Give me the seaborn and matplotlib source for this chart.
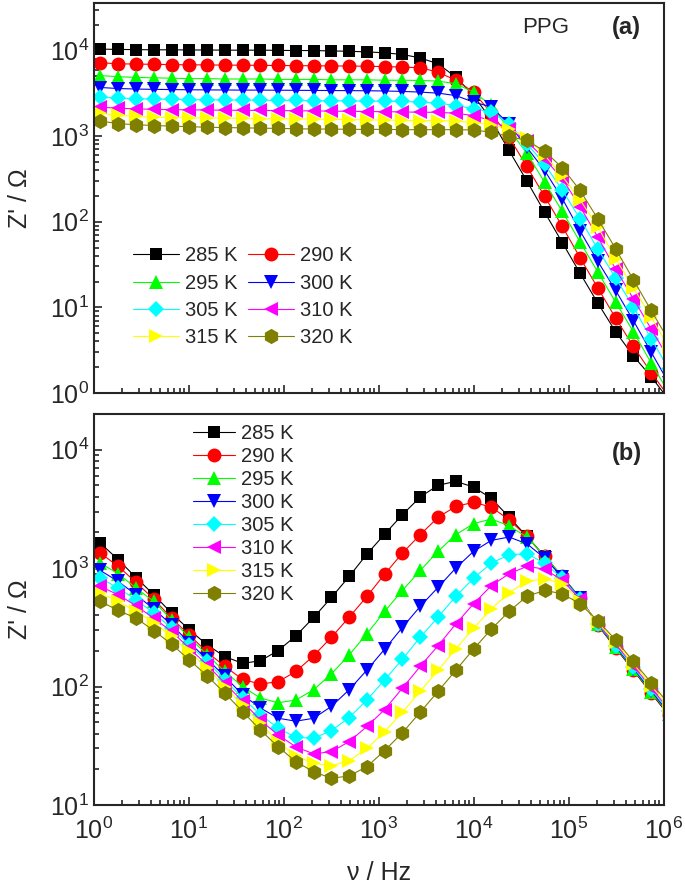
import matplotlib
matplotlib.use('Agg')
import matplotlib.pyplot as plt
import matplotlib.ticker as mticker
import pandas as pd
import seaborn as sns

sns.set_style('ticks')
plt.rcParams.update({
    'font.family': ['Liberation Sans', 'DejaVu Sans'],
    'mathtext.fontset': 'custom',
    'mathtext.rm': 'Liberation Sans',
    'mathtext.it': 'Liberation Sans:italic',
    'mathtext.bf': 'Liberation Sans:bold',
    'font.size': 16,
})

# frequencies (Hz); the last one lies just past 1e6 and is clipped by the axis
freq = [1.17, 1.81, 2.78, 4.28, 6.58, 10.1, 15.6, 23.9, 36.8, 56.6, 87.1, 134,
        206, 317, 488, 750, 1153, 1774, 2729, 4198, 6457, 9931, 15276, 23496,
        36141, 55590, 85507, 131522, 202302, 311172, 478630, 736207, 1132400]

temps = ['285 K', '290 K', '295 K', '300 K', '305 K', '310 K', '315 K', '320 K']
colors = ['#000000', '#ff0000', '#00ff00', '#0000ff', '#00ffff', '#ff00ff', '#ffff00', '#808000']
markers = ['s', 'o', '^', 'v', 'D', '<', '>', 'h']
msizes = [9, 10, 10.5, 10.5, 8.5, 10.5, 10.5, 11]

xticks = [1e0, 1e1, 1e2, 1e3, 1e4, 1e5, 1e6]
yticks_a = [1e0, 1e1, 1e2, 1e3, 1e4]
yticks_b = [1e1, 1e2, 1e3, 1e4]

# panel (a): PPG
za_285 = [10400, 10300, 10250, 10200, 10200, 10150, 10150, 10100, 10100, 10100, 10050, 10000, 10000,
          9900, 9800, 9650, 9400, 9000, 8200, 7000, 4900, 3000, 1550, 680, 300, 130, 57, 25, 11.2,
          5.2, 2.7, 1.55, 0.83]
za_290 = [7200, 7000, 6950, 6900, 6850, 6800, 6800, 6750, 6750, 6700, 6700, 6650, 6650, 6600,
          6600, 6550, 6500, 6400, 6300, 5600, 4500, 3270, 1860, 973, 443, 199, 88, 38, 16.8, 7.5,
          3.5, 1.73, 0.9]
za_295 = [5100, 4950, 4850, 4800, 4750, 4700, 4700, 4650, 4650, 4650, 4600, 4600, 4600, 4550,
          4550, 4550, 4500, 4500, 4470, 4400, 4100, 3270, 2300, 1200, 632, 290, 132, 58, 25.8,
          11.5, 5.2, 2.24, 1.0]
za_300 = [3700, 3600, 3550, 3520, 3500, 3480, 3470, 3460, 3450, 3450, 3440, 3430, 3420, 3410,
          3400, 3390, 3370, 3330, 3270, 3180, 2980, 2500, 2200, 1380, 741, 398, 186, 78, 34.4,
          15.8, 7.0, 3.0, 1.3]
za_305 = [2850, 2780, 2740, 2710, 2690, 2670, 2660, 2650, 2640, 2630, 2620, 2610, 2600, 2590,
          2580, 2570, 2560, 2540, 2500, 2430, 2280, 2100, 1900, 1400, 820, 470, 234, 108, 48, 22,
          10.1, 4.3, 1.9]
za_310 = [2180, 2120, 2080, 2060, 2040, 2030, 2020, 2010, 2000, 2000, 1990, 1980, 1970, 1960,
          1950, 1940, 1930, 1920, 1900, 1900, 1850, 1740, 1520, 1220, 870, 544, 318, 150, 66, 28,
          12.6, 5.6, 2.5]
za_315 = [1850, 1750, 1700, 1670, 1650, 1640, 1630, 1620, 1610, 1600, 1600, 1590, 1580, 1570,
          1560, 1550, 1540, 1530, 1520, 1520, 1500, 1440, 1360, 1220, 960, 600, 340, 180, 87, 37,
          17, 7.7, 3.4]
za_320 = [1500, 1400, 1360, 1330, 1310, 1290, 1270, 1260, 1250, 1240, 1230, 1220, 1210, 1210,
          1200, 1200, 1200, 1190, 1190, 1190, 1190, 1180, 1110, 991, 890, 668, 427, 232, 108,
          48.4, 21, 9.2, 4.1]

# panel (b)
zb_285 = [1626, 1175, 833, 595, 417, 301, 225, 179, 157, 165, 201, 268, 383, 565, 851, 1313,
          1936, 2825, 3983, 5000, 5400, 4837, 3879, 2698, 1854, 1256, 851, 560, 330, 211, 137, 88, 57]
zb_290 = [1340, 1033, 757, 547, 378, 273, 195, 148, 115, 105, 110, 134, 182, 261, 385, 577, 890,
          1340, 1915, 2680, 3320, 3590, 3275, 2560, 1854, 1256, 850, 560, 332, 213, 138, 89, 58]
zb_295 = [1100, 896, 678, 523, 365, 261, 185, 134, 100, 80, 73, 77, 94, 128, 185, 279, 431, 648,
          955, 1383, 1915, 2371, 2597, 2280, 1829, 1272, 845, 560, 335, 215, 140, 90, 59]
zb_300 = [955, 771, 595, 451, 332, 235, 170, 122, 85, 66, 54, 51, 54, 68, 94, 138, 207, 316, 475,
          687, 1000, 1383, 1714, 1829, 1606, 1216, 835, 555, 337, 218, 142, 92, 60]
zb_305 = [822, 678, 540, 417, 311, 225, 163, 114, 80, 58, 44.5, 37.3, 36.6, 42.5, 54.7, 77, 114,
          170, 261, 385, 577, 822, 1100, 1297, 1322, 1100, 820, 550, 340, 222, 145, 95, 62]
zb_310 = [700, 595, 481, 378, 292, 211, 152, 107, 75, 52, 39, 31, 27, 28.2, 34.3, 46, 64, 97, 148,
          221, 337, 500, 710, 896, 1033, 982, 790, 545, 342, 228, 150, 98, 64]
zb_315 = [615, 523, 431, 347, 265, 198, 143, 100, 70, 49, 34, 26, 22.5, 21.4, 23.7, 30, 41.7,
          60.7, 91, 137, 207, 311, 451, 622, 771, 813, 740, 530, 348, 236, 156, 102, 67]
zb_320 = [523, 439, 378, 297, 228, 168, 123, 88, 61.5, 43, 31, 23.2, 19.1, 16.8, 17.6, 21.1, 28.8,
          40.8, 60.7, 91, 137, 207, 305, 431, 577, 648, 607, 500, 359, 248, 163, 108, 71]

panel_a = [za_285, za_290, za_295, za_300, za_305, za_310, za_315, za_320]
panel_b = [zb_285, zb_290, zb_295, zb_300, zb_305, zb_310, zb_315, zb_320]

fig = plt.figure(figsize=(6.85, 8.85), dpi=100)
ax1 = fig.add_axes([0.137, 0.556, 0.832, 0.4407])
ax2 = fig.add_axes([0.137, 0.0904, 0.832, 0.4418])


def draw(ax, series, yticks):
    ax.set_xscale('log')
    ax.set_yscale('log')
    lines = []
    for vals, lab, c, m, ms in zip(series, temps, colors, markers, msizes):
        df = pd.DataFrame({'f': freq, 'z': vals})
        sns.lineplot(data=df, x='f', y='z', ax=ax, color=c, marker=m, markersize=ms,
                     markeredgewidth=0, linewidth=0.8, label=lab, legend=False)
        lines.append(ax.lines[-1])
    ax.set_xlim(1, 1e6)
    ax.tick_params(which='both', direction='in', top=False, right=False, width=1.2,
                   labelsize=18)
    ax.tick_params(which='major', length=6)
    ax.tick_params(which='minor', length=3.5)
    ax.xaxis.set_major_locator(mticker.FixedLocator(xticks))
    ax.yaxis.set_major_locator(mticker.FixedLocator(yticks))
    ax.xaxis.set_major_formatter(mticker.LogFormatterSciNotation())
    ax.yaxis.set_major_formatter(mticker.LogFormatterSciNotation())
    ax.xaxis.set_minor_locator(mticker.LogLocator(base=10, subs=range(2, 10), numticks=20))
    ax.yaxis.set_minor_locator(mticker.LogLocator(base=10, subs=range(2, 10), numticks=20))
    ax.xaxis.set_minor_formatter(mticker.NullFormatter())
    ax.yaxis.set_minor_formatter(mticker.NullFormatter())
    for sp in ax.spines.values():
        sp.set_linewidth(1.5)
    ax.set_ylabel("Z' / Ω", fontsize=18)
    ax.yaxis.set_label_coords(-0.108, 0.5)
    return lines


lines_a = draw(ax1, panel_a, yticks_a)
ax1.set_ylim(1, 3.6e4)
ax1.set_xlabel('')
ax1.tick_params(axis='x', labelbottom=False)
order = [0, 2, 4, 6, 1, 3, 5, 7]
ax1.legend([lines_a[i] for i in order], [temps[i] for i in order], ncol=2,
           loc='upper left', bbox_to_anchor=(0.068, 0.376), frameon=False,
           fontsize=14.5, handlelength=2.3, handletextpad=0.3, columnspacing=0.5,
           labelspacing=0.41, borderpad=0, borderaxespad=0)
ax1.text(0.793, 0.938, 'PPG', transform=ax1.transAxes, ha='center', va='center', fontsize=16)
ax1.text(0.935, 0.938, '(a)', transform=ax1.transAxes, ha='center', va='center',
         fontsize=17, fontweight='bold')

lines_b = draw(ax2, panel_b, yticks_b)
ax2.set_ylim(10, 2e4)
ax2.set_xlabel('ν / Hz', fontsize=18, labelpad=12)
ax2.tick_params(axis='x', pad=9)
ax2.legend(lines_b, temps, loc='upper left', bbox_to_anchor=(0.174, 0.975), frameon=False,
           fontsize=14.5, handlelength=2.1, handletextpad=0.3, labelspacing=0.2,
           borderpad=0, borderaxespad=0)
ax2.text(0.935, 0.90, '(b)', transform=ax2.transAxes, ha='center', va='center',
         fontsize=17, fontweight='bold')

fig.savefig('out.png', dpi=100)
